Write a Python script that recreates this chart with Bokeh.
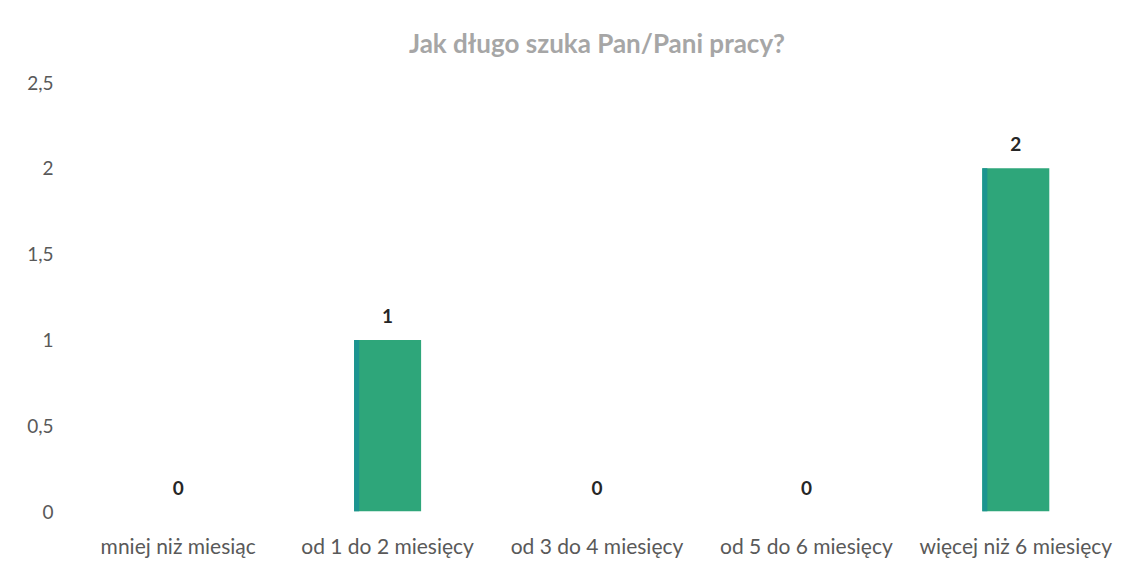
from bokeh.plotting import figure
from bokeh.models import ColumnDataSource, FixedTicker, CustomJSTickFormatter, Range1d
from bokeh.core.properties import value
from bokeh.transform import dodge
from bokeh.embed import file_html
from bokeh.resources import INLINE

title = "Jak długo szuka Pan/Pani pracy?"
categories = ["mniej niż miesiąc", "od 1 do 2 miesięcy", "od 3 do 4 miesięcy",
              "od 5 do 6 miesięcy", "więcej niż 6 miesięcy"]
counts = [0, 1, 0, 0, 2]
y_ticks = [0, 0.5, 1, 1.5, 2, 2.5]

FONT = "Lato"

src = ColumnDataSource(dict(cat=categories, val=counts, lab=[str(v) for v in counts]))

p = figure(x_range=categories, y_range=Range1d(0, 2.5), width=1123, height=560,
           output_backend="svg", toolbar_location=None,
           min_border_left=73, min_border_right=3, min_border_top=81, min_border_bottom=44)

p.vbar(x="cat", top="val", width=0.32, source=src, fill_color="#2ea67a",
       line_color=None)
p.vbar(x=dodge("cat", -0.148, range=p.x_range), top="val", width=0.024, source=src,
       fill_color="#1c9490", line_color=None)

p.text(x="cat", y="val", text="lab", source=src, text_align="center",
       text_baseline="bottom", y_offset=-17, text_font=value(FONT),
       text_font_style="bold", text_font_size="19px", text_color="#262626")

p.title.text = title
p.title.align = "center"
p.title.text_font = FONT
p.title.text_font_size = "26px"
p.title.text_font_style = "bold"
p.title.text_color = "#a6a6a6"
p.title.text_line_height = 0.6
p.title.standoff = 48

p.outline_line_color = None
p.xgrid.grid_line_color = None
p.ygrid.grid_line_color = None

p.yaxis.ticker = FixedTicker(ticks=y_ticks)
p.yaxis.formatter = CustomJSTickFormatter(code="return tick.toString().replace('.', ',');")
p.yaxis.axis_line_color = None
p.yaxis.major_tick_line_color = None
p.yaxis.minor_tick_line_color = None
p.yaxis.major_label_standoff = 14
p.yaxis.major_label_text_font = FONT
p.yaxis.major_label_text_font_size = "19px"
p.yaxis.major_label_text_color = "#595959"

p.xaxis.axis_line_color = None
p.xaxis.major_tick_line_color = None
p.xaxis.major_label_standoff = 15
p.xaxis.major_label_text_font = FONT
p.xaxis.major_label_text_font_size = "21px"
p.xaxis.major_label_text_color = "#595959"

open("out.html", "w").write(file_html(p, INLINE))
